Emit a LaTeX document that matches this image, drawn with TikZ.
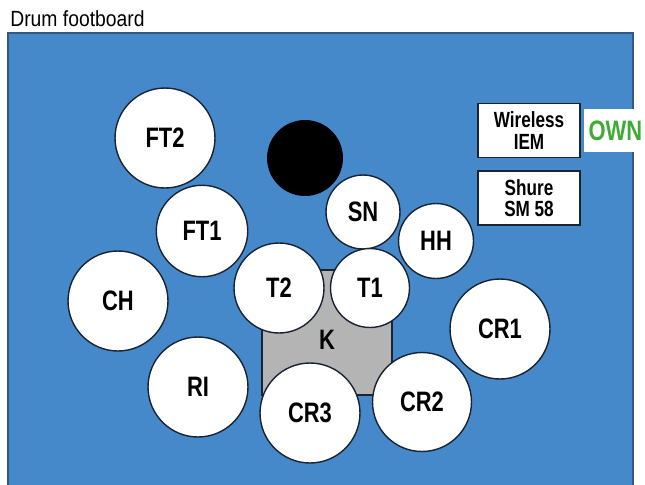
\documentclass[tikz,border=0pt]{standalone}
\usepackage{fontspec}
\setmainfont{Liberation Sans}[FakeStretch=0.78]
\newfontfamily\titlefont{Liberation Sans}[FakeStretch=0.88]
\usetikzlibrary{positioning}
\definecolor{padblue}{RGB}{70,137,203}
\definecolor{padedge}{RGB}{52,88,128}
\definecolor{rimline}{RGB}{25,35,50}
\definecolor{kickgray}{RGB}{180,180,180}
\definecolor{owngreen}{RGB}{62,172,52}
\tikzset{
    drum/.style={circle, draw=rimline, fill=white, line width=0.8pt, inner sep=0pt, font=\fontsize{16}{18}\selectfont\bfseries},
    kickbox/.style={rectangle, draw=rimline, fill=kickgray, line width=0.6pt, minimum width=2.6cm, minimum height=2.5cm, inner sep=0pt},
    gear/.style={rectangle, draw=rimline, fill=white, line width=1.1pt, minimum width=2.04cm, minimum height=1.08cm, inner sep=0pt, align=center, font=\fontsize{12.5}{12}\selectfont\bfseries},
}

\begin{document}
\begin{tikzpicture}[x=0.02cm, y=-0.02cm]
  \useasboundingbox[fill=white] (0,0) rectangle (645,484);
  \node[anchor=base west, inner sep=0pt, font=\titlefont\fontsize{12.5}{14}\selectfont] (title) at (10,26) {Drum footboard};
  \draw[padedge, fill=padblue, line width=0.8pt] (8,33) rectangle (633,488);

  % kick under the toms
  \node[kickbox, label={[yshift=-0.15cm, font=\fontsize{16}{18}\selectfont\bfseries]center:K}] (K) at (327,332.5) {};

  \node[drum, minimum size=2cm]    (FT2) at (165,138) {FT2};
  \node[circle, fill=black, minimum size=1.52cm] (throne) at (305,158) {};
  \node[drum, minimum size=1.83cm] (FT1) at (202,231) {FT1};
  \node[drum, minimum size=1.48cm] (SN)  at (363,212) {SN};
  \node[drum, minimum size=1.5cm]  (HH)  at (436,241) {HH};
  \node[drum, minimum size=2cm]    (CH)  at (118,301) {CH};
  \node[drum, minimum size=1.8cm]  (T2)  at (279,288) {T2};
  \node[drum, minimum size=1.58cm] (T1)  at (370,288) {T1};
  \node[drum, minimum size=2cm]    (CR1) at (500,329) {CR1};
  \node[drum, minimum size=2cm]    (RI)  at (198,387) {RI};
  \node[drum, minimum size=1.98cm] (CR2) at (422,402) {CR2};
  \node[drum, minimum size=2cm]    (CR3) at (310,413) {CR3};

  % monitors and mic
  \node[gear] (iem) at (529,130.5) {Wireless\\IEM};
  \node[gear, below=0.24cm of iem] (shure) {Shure\\SM 58};
  \node[fill=white, text=owngreen, minimum width=1.24cm, minimum height=0.86cm, inner sep=0pt,
        font=\fontsize{16}{18}\selectfont\bfseries, right=0.06cm of iem] (own) {OWN};
\end{tikzpicture}
\end{document}
